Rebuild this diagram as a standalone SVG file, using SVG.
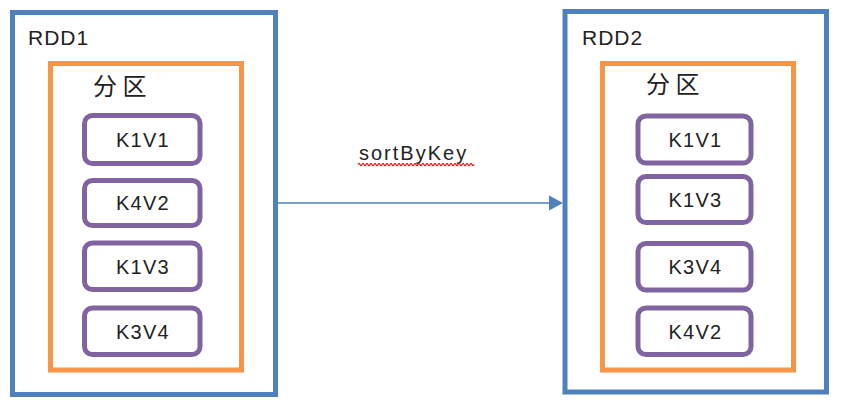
<svg xmlns="http://www.w3.org/2000/svg" width="843" height="408" viewBox="0 0 843 408">
<style>
.rdd{fill:#fff;stroke:#4F81BD;stroke-width:5}
.part{fill:none;stroke:#F79646;stroke-width:5}
.kv{fill:#fff;stroke:#8064A2;stroke-width:5}
.t{font-family:"Liberation Sans",Arial,sans-serif;fill:#222}
.lbl{font-size:21px;letter-spacing:1px}
.kvt{font-size:20px;letter-spacing:1.3px;text-anchor:middle}
.cjk{font-family:"Liberation Sans","Noto Sans CJK SC",sans-serif;font-size:24px;letter-spacing:5.5px;fill:#222}
</style>
<rect width="843" height="408" fill="#fff"/>
<g id="rdd1">
<rect class="rdd" x="12.5" y="12.5" width="263" height="382"/>
<text class="t lbl" x="28" y="45">RDD1</text>
<g id="rdd1-partition">
<rect class="part" x="50.5" y="63.5" width="191" height="306.5"/>
<text class="cjk" x="93" y="95">分区</text>
</g>
<g id="rdd1-k1v1"><rect class="kv" x="84.5" y="115.5" width="115.5" height="48" rx="8"/><text class="t kvt" x="143" y="147">K1V1</text></g>
<g id="rdd1-k4v2"><rect class="kv" x="84.5" y="180.5" width="115.5" height="45" rx="8"/><text class="t kvt" x="143" y="210">K4V2</text></g>
<g id="rdd1-k1v3"><rect class="kv" x="84.5" y="243" width="115.5" height="46.5" rx="8"/><text class="t kvt" x="143" y="273.5">K1V3</text></g>
<g id="rdd1-k3v4"><rect class="kv" x="84.5" y="308" width="115.5" height="46.5" rx="8"/><text class="t kvt" x="143" y="338.5">K3V4</text></g>
</g>
<g id="rdd2">
<rect class="rdd" x="565" y="11.5" width="261.5" height="380.5"/>
<text class="t lbl" x="582" y="45">RDD2</text>
<g id="rdd2-partition">
<rect class="part" x="602.5" y="63.5" width="191" height="306.5"/>
<text class="cjk" x="646" y="93">分区</text>
</g>
<g id="rdd2-k1v1"><rect class="kv" x="638" y="116" width="113" height="47" rx="8"/><text class="t kvt" x="695.5" y="147">K1V1</text></g>
<g id="rdd2-k1v3"><rect class="kv" x="638" y="176.5" width="113" height="46" rx="8"/><text class="t kvt" x="695.5" y="207">K1V3</text></g>
<g id="rdd2-k3v4"><rect class="kv" x="638" y="243.5" width="113" height="46.5" rx="8"/><text class="t kvt" x="695.5" y="274">K3V4</text></g>
<g id="rdd2-k4v2"><rect class="kv" x="638" y="308" width="113" height="46.5" rx="8"/><text class="t kvt" x="695.5" y="338.5">K4V2</text></g>
</g>
<g id="connectors">
<line x1="278" y1="203" x2="551" y2="203" stroke="#4F81BD" stroke-width="1.5"/>
<polygon points="549,195.5 563,203 549,210.5" fill="#4F81BD"/>
<text class="t" x="359" y="160" font-size="20" letter-spacing="2">sortByKey</text>
<path d="M358,164.5 q1,-2.4 2,0 t2,0 t2,0 t2,0 t2,0 t2,0 t2,0 t2,0 t2,0 t2,0 t2,0 t2,0 t2,0 t2,0 t2,0 t2,0 t2,0 t2,0 t2,0 t2,0 t2,0 t2,0 t2,0 t2,0 t2,0 t2,0 t2,0 t2,0 t2,0 t2,0 t2,0 t2,0 t2,0 t2,0 t2,0 t2,0 t2,0 t2,0 t2,0 t2,0 t2,0 t2,0 t2,0 t2,0 t2,0 t2,0 t2,0 t2,0 t2,0 t2,0 t2,0 t2,0 t2,0 t2,0 t2,0 t2,0 t2,0 t2,0" fill="none" stroke="#E02020" stroke-width="1.2"/>
</g>
</svg>
